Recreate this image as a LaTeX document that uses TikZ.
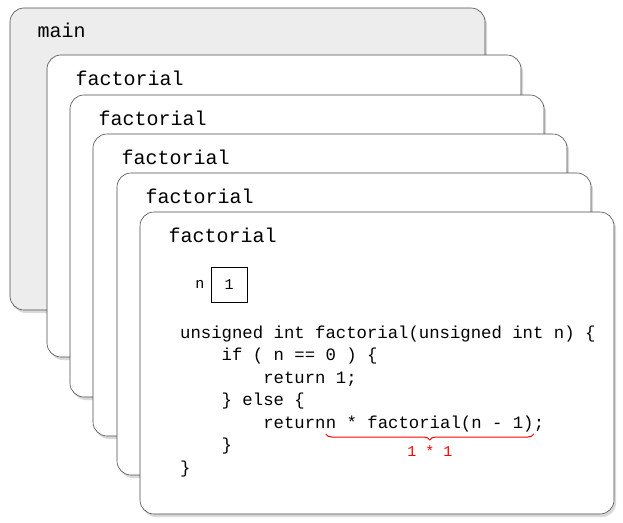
\documentclass[tikz,border=0pt]{standalone}
\usepackage{fontspec}
\setmonofont{Liberation Mono}
\usetikzlibrary{shadows,decorations.pathreplacing,positioning}
\begin{document}
\begin{tikzpicture}[x=1pt,y=-1pt,
  card/.style={draw=black!70,line width=0.6pt,rounded corners=14pt,fill=white,
    drop shadow={shadow xshift=2pt,shadow yshift=-3pt,opacity=0.3,fill=black!50}},
  ttl/.style={anchor=base west,font=\ttfamily\fontsize{20}{20}\selectfont},
  code/.style={anchor=base west,font=\ttfamily\fontsize{17.3}{17.3}\selectfont,inner sep=0}]
\useasboundingbox (0,0) rectangle (623,522);
\draw[card,fill=black!7] (10,8) rectangle (485,310);
\node[ttl] (t0) at (34,37) {main};
\foreach \i/\x/\y in {1/47/55,2/70/95,3/93/134,4/117/173}{
  \draw[card] (\x,\y) rectangle ++(474,302);
  \node[ttl] (t\i) at (\x+25,\y+30) {factorial};
}
\draw[card] (140,212) rectangle ++(474,302);
\node[ttl] (t5) at (165,242) {factorial};
\node[draw,minimum width=36pt,minimum height=35pt,inner sep=0,font=\ttfamily\fontsize{15}{15}\selectfont] (box) at (229,284.5) {1};
\node[font=\ttfamily\fontsize{15}{15}\selectfont,left=3pt of box] (nl) {n};
\node[code] (c1) at (180,338) {unsigned int factorial(unsigned int n) \{};
\node[code] (c2) at (180,360.5) {\ \ \ \ if ( n == 0 ) \{};
\node[code] (c3) at (180,383) {\ \ \ \ \ \ \ \ return 1;};
\node[code] (c4) at (180,405.5) {\ \ \ \ \} else \{};
\node[code] (c5a) at (180,428) {\ \ \ \ \ \ \ \ return\ };
\node[code] (c5) at (c5a.base east) {n * factorial(n - 1)};
\node[code] (c5b) at (c5.base east) {;};
\node[code] (c6) at (180,450.5) {\ \ \ \ \}};
\node[code] (c7) at (180,473) {\}};
\draw[red,line width=1pt,decorate,decoration={brace,mirror,amplitude=6pt}] ([yshift=-6pt]c5.base west) -- ([yshift=-6pt]c5.base east) coordinate[midway] (bm);
\node[code,anchor=north,text=red,font=\ttfamily\fontsize{15}{15}\selectfont] (r) at ([yshift=-11pt]bm) {1 * 1};
\end{tikzpicture}
\end{document}
